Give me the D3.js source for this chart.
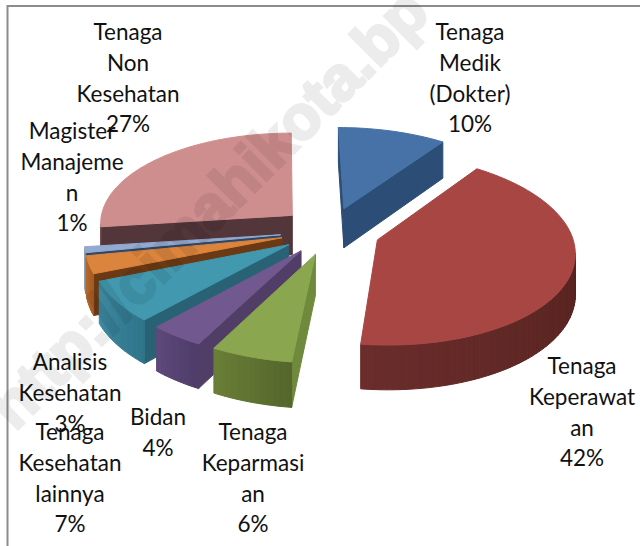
<!DOCTYPE html>
<html>
<head>
<meta charset="utf-8">
<script src="https://cdnjs.cloudflare.com/ajax/libs/d3/7.8.5/d3.min.js"></script>
<style>
html, body { margin: 0; padding: 0; background: #fff; }
svg { display: block; }
</style>
</head>
<body>
<svg id="canvas"></svg>
<script>
let width = 640
let height = 546

let categories = [
    ["Tenaga", "Medik", "(Dokter)"],
    ["Tenaga", "Keperawat", "an"],
    ["Tenaga", "Keparmasi", "an"],
    ["Bidan"],
    ["Tenaga", "Kesehatan", "lainnya"],
    ["Analisis", "Kesehatan"],
    ["Magister", "Manajeme", "n"],
    ["Tenaga", "Non", "Kesehatan"]
]
let values = [10, 42, 6, 4, 7, 3, 1, 27]

let topColors = ["#4672a8", "#a84643", "#8aa64e", "#71588f", "#4198af", "#db843d", "#93a9cf", "#cf8e8e"]
let sideColors = ["#2c4d75", "#6e2f2d", "#6f8a3c", "#513e66", "#296175", "#6b3a15", "#2f4766", "#52363a"]
let wallLight = ["#2c4d75", "#6a2d2b", "#6b8038", "#5f4a7c", "#3f8aa2", "#b86a2c", "#7a8fb0", "#8a5a5a"]
let wallDark = ["#2c4d75", "#481c18", "#53652b", "#4e3b68", "#2f7388", "#a35b22", "#6a7e9e", "#7a4c4c"]

// centre of each label, one per category
let labelX = [470, 582, 253, 158, 70, 70, 72, 128]
let labelY = [32, 366, 432, 417, 432, 362, 131, 32]
let lineHeight = 30.8

let cx = 330
let cy = 231
let radius = 194
let explode = 50
let tilt = 0.48
let eye = 2000
let depth = 40
let shear = 0.025

let canvas = d3.select("#canvas")
    .attr("width", width)
    .attr("height", height)

let project = (px, py, down) => {
    let s = eye / (eye - py)
    return [cx + (px + py * shear) * s, cy + py * tilt * s + down * s]
}

let signedArea = (pts) => {
    let a = 0
    pts.forEach((p, i) => {
        let q = pts[(i + 1) % pts.length]
        a += p[0] * q[1] - q[0] * p[1]
    })
    return a / 2
}

let line = d3.line()

let drawPoly = (g, pts, fill) => {
    g.append("path")
        .attr("d", line(pts) + "Z")
        .attr("fill", fill)
        .attr("stroke", fill)
        .attr("stroke-width", 1)
}

let slices = d3.pie().sort(null).value(d => d)(values)
slices.forEach((s, i) => {
    s.index = i
    s.mid = (s.startAngle + s.endAngle) / 2
})

// back to front
let ordered = slices.slice().sort((a, b) => Math.cos(b.mid) - Math.cos(a.mid))

let pie = canvas.append("g")

ordered.forEach((s) => {
    let g = pie.append("g")
    let ox = explode * Math.sin(s.mid)
    let oy = -explode * Math.cos(s.mid)
    let rim = (a) => [ox + radius * Math.sin(a), oy - radius * Math.cos(a)]
    let steps = d3.range(0, Math.ceil((s.endAngle - s.startAngle) / 0.03) + 1)
    let angles = steps.map(k => s.startAngle + (s.endAngle - s.startAngle) * k / (steps.length - 1))

    // the two flat walls from apex to rim
    ;[[s.startAngle, 1], [s.endAngle, -1]].forEach(([a, dir]) => {
        let r = rim(a)
        let wall = [project(ox, oy, 0), project(r[0], r[1], 0), project(r[0], r[1], depth), project(ox, oy, depth)]
        if (signedArea(wall) * dir < 0) {
            drawPoly(g, wall, sideColors[s.index])
        }
    })

    // outer wall in strips so the shade can change along it
    let shade = d3.interpolateRgb(wallDark[s.index], wallLight[s.index])
    angles.slice(0, -1).forEach((a, k) => {
        let r1 = rim(a)
        let r2 = rim(angles[k + 1])
        let strip = [project(r1[0], r1[1], 0), project(r2[0], r2[1], 0), project(r2[0], r2[1], depth), project(r1[0], r1[1], depth)]
        if (signedArea(strip) < 0) {
            drawPoly(g, strip, shade((k + 1) / angles.length))
        }
    })

    let top = [project(ox, oy, 0)].concat(angles.map(a => {
        let r = rim(a)
        return project(r[0], r[1], 0)
    }))
    drawPoly(g, top, topColors[s.index])
})

// frame
canvas.append("path")
    .attr("d", `M7.5,${height}V6H${width}`)
    .attr("fill", "none")
    .attr("stroke", "#8c8c8c")
    .attr("stroke-width", 2)

// labels
categories.forEach((lines, i) => {
    let t = canvas.append("text")
        .attr("text-anchor", "middle")
        .attr("font-family", "Lato")
        .attr("font-size", 22.5)
        .attr("fill", "#111")
    lines.concat([values[i] + "%"]).forEach((txt, k) => {
        t.append("tspan")
            .attr("x", labelX[i])
            .attr("y", labelY[i] + k * lineHeight + 8)
            .text(txt)
    })
})

// watermark of the source blog
canvas.append("text")
    .attr("transform", "translate(15,432) rotate(-45)")
    .attr("font-family", "Liberation Sans")
    .attr("font-weight", "bold")
    .attr("font-size", 62)
    .attr("fill", "#000")
    .attr("stroke", "#000")
    .attr("stroke-width", 3)
    .attr("opacity", 0.07)
    .text("http://cimahikota.bp")
</script>
</body>
</html>
